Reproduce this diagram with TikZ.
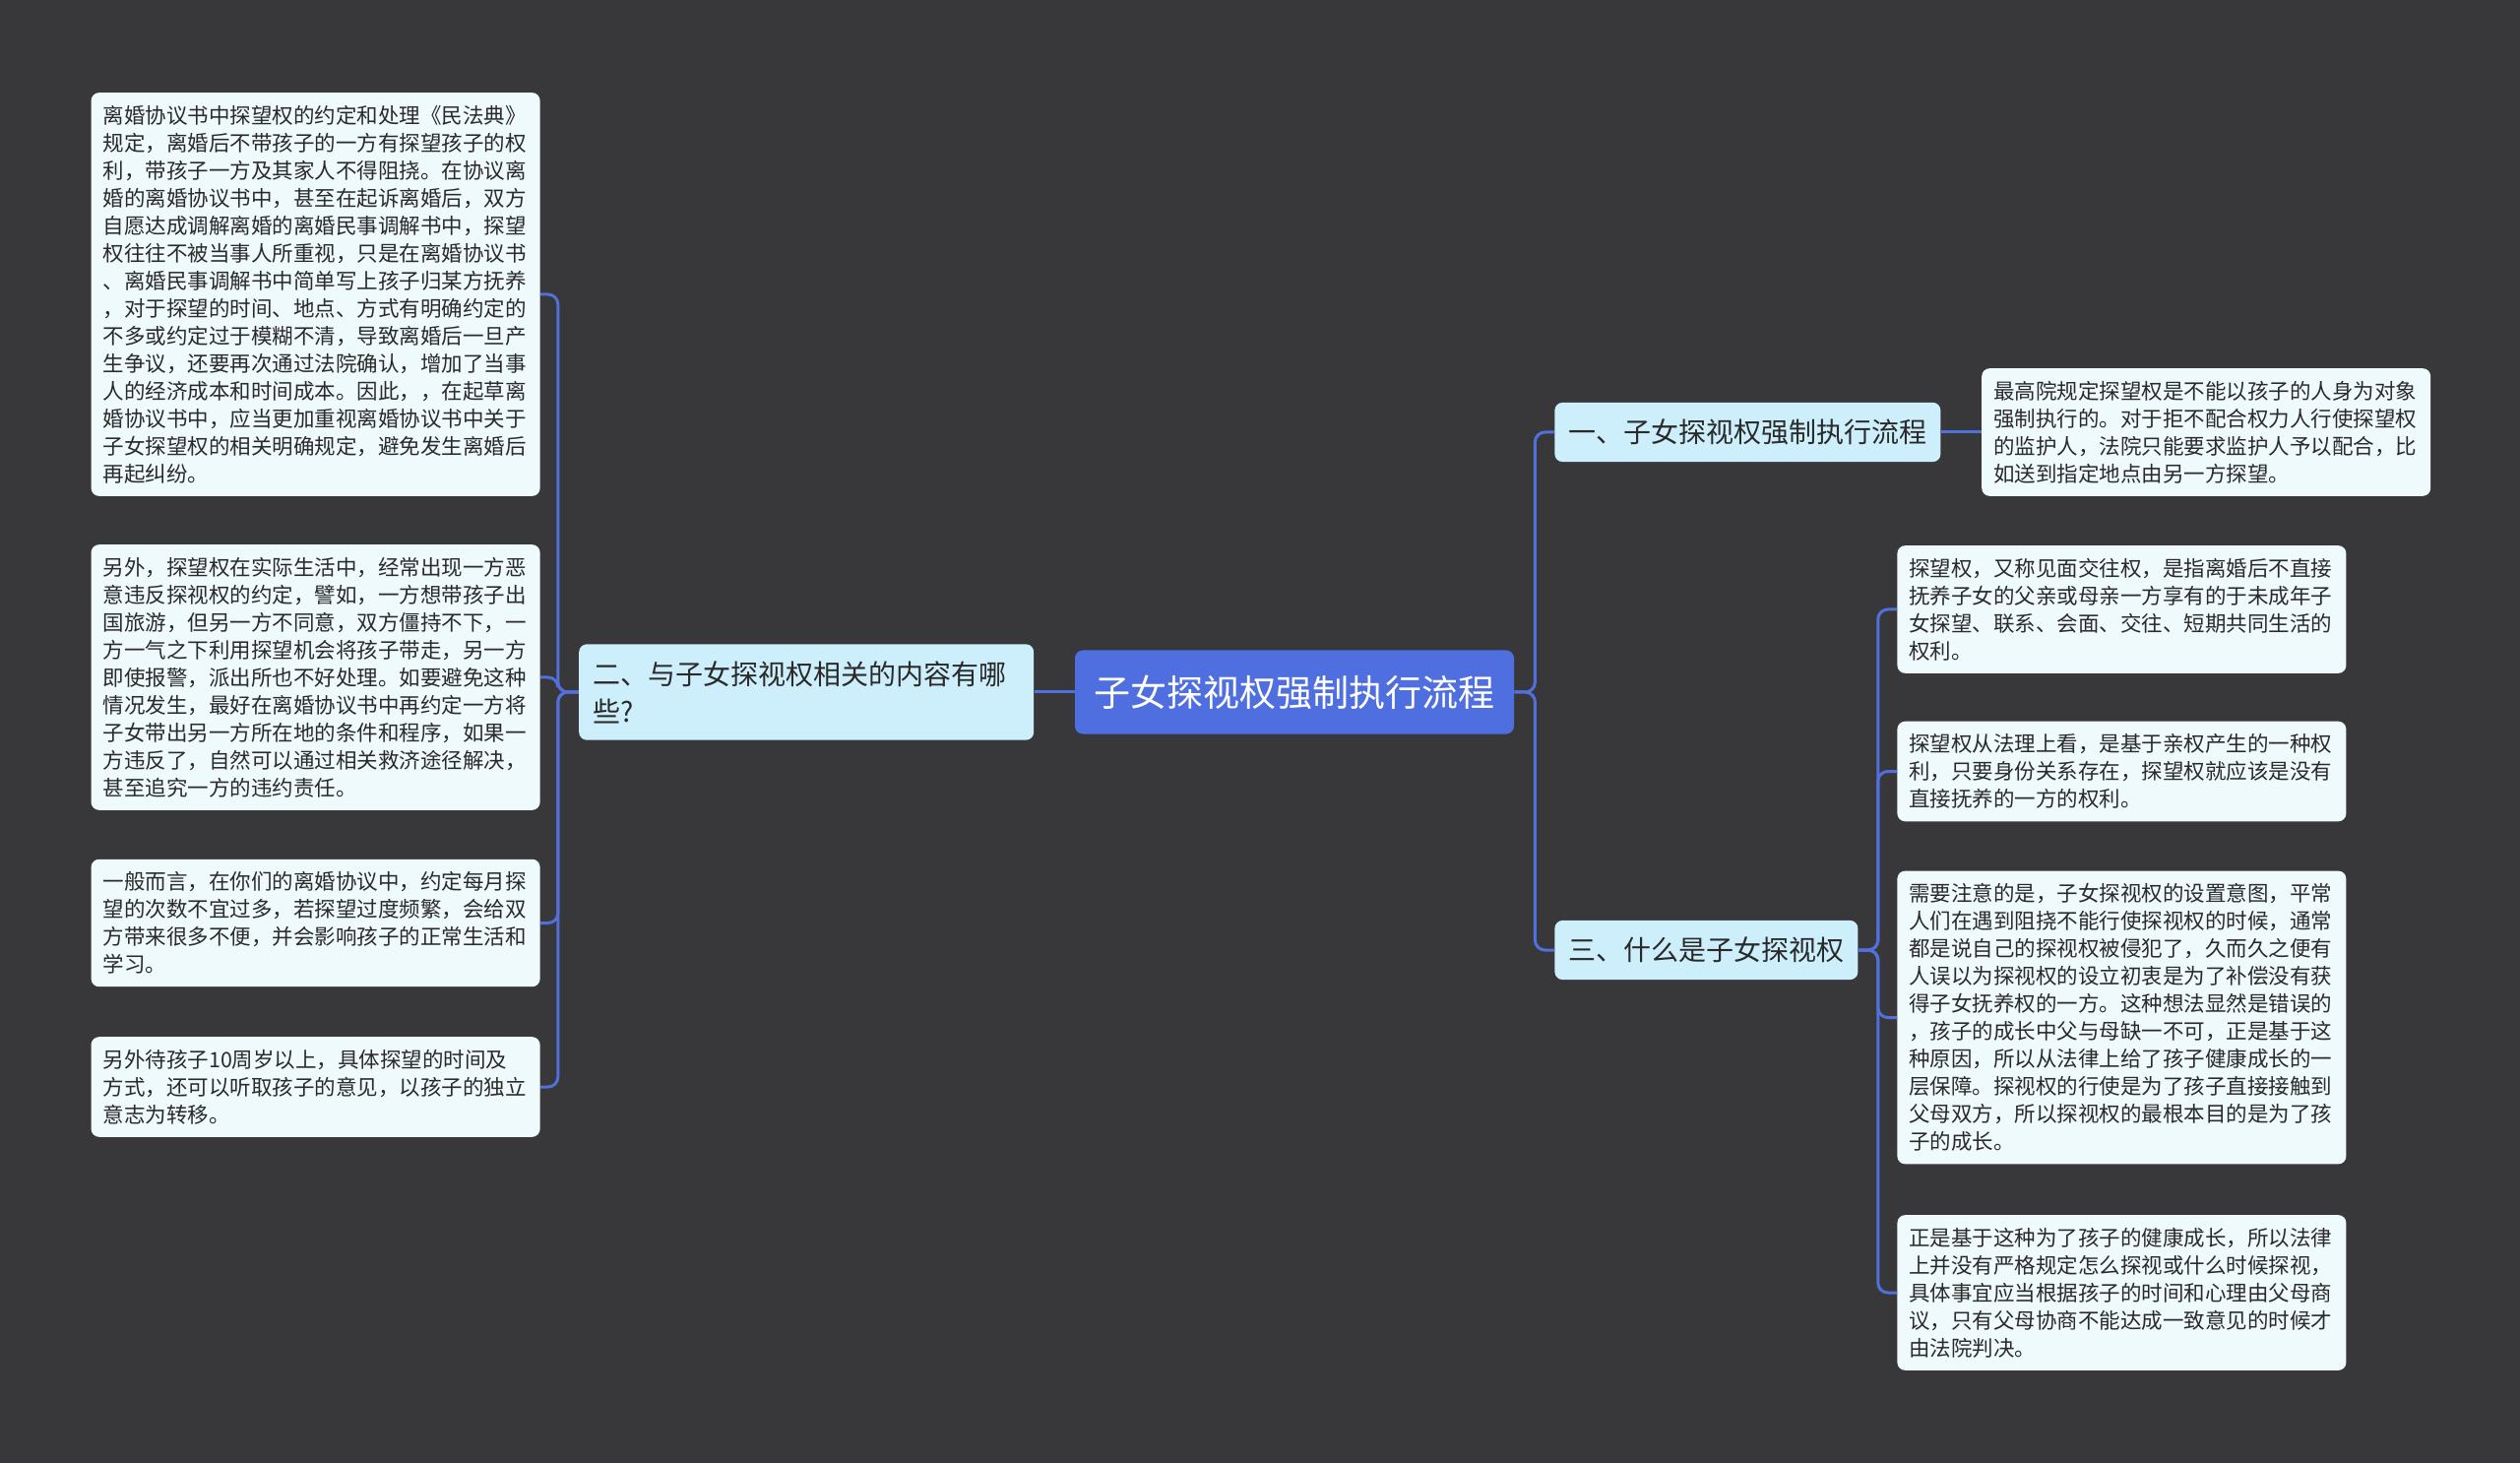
\documentclass[tikz,border=0pt]{standalone}
\usepackage{fontspec}
\setmainfont{Noto Sans CJK SC}
\usetikzlibrary{positioning}
\definecolor{bgdark}{HTML}{38383A}
\definecolor{rootblue}{HTML}{4F6FE0}
\definecolor{topicfill}{HTML}{CDEEFB}
\definecolor{leaffill}{HTML}{EFFAFC}
\definecolor{linkblue}{HTML}{5170DC}
\definecolor{inkgray}{HTML}{2A2A2A}
\tikzset{
    root/.style={rectangle, fill=rootblue, text=white, rounded corners=4pt, minimum width=223pt, minimum height=42.5pt, font=\fontsize{18.5}{22}\selectfont},
    topic/.style={rectangle, fill=topicfill, text=inkgray, rounded corners=4pt, inner xsep=7pt, inner ysep=8.5pt, align=left, font=\fontsize{14}{19}\selectfont},
    leaf/.style={rectangle, fill=leaffill, text=inkgray, rounded corners=4pt, inner xsep=6pt, inner ysep=6.4pt, text width=216pt, align=left, font=\fontsize{10.75}{14}\selectfont},
    link/.style={draw=linkblue, line width=1.5pt, rounded corners=5pt}
}
\begin{document}
\begin{tikzpicture}[x=0.5pt, y=-0.5pt]
    % background
    \fill[bgdark] (0,0) rectangle (2560,1486);
    \useasboundingbox (0,0) rectangle (2560,1486);

    % centre and main topics
    \node[root] (root) at (1315,703) {子女探视权强制执行流程};
    \node[topic, text width=217pt, left=20.5pt of root] (t2) {二、与子女探视权相关的内容有哪\\些?};
    \node[topic, anchor=west] (t1) at (1579,439) {一、子女探视权强制执行流程};
    \node[topic, anchor=west] (t3) at (1579,965) {三、什么是子女探视权};

    % topic one
    \node[leaf, right=20.5pt of t1] (r1) {最高院规定探望权是不能以孩子的人身为对象\\强制执行的。对于拒不配合权力人行使探望权\\的监护人，法院只能要求监护人予以配合，比\\如送到指定地点由另一方探望。};

    % topic three
    \node[leaf, anchor=west] (r2) at (1927,619) {探望权，又称见面交往权，是指离婚后不直接\\抚养子女的父亲或母亲一方享有的于未成年子\\女探望、联系、会面、交往、短期共同生活的\\权利。};
    \node[leaf, anchor=west] (r3) at (1927,783.5) {探望权从法理上看，是基于亲权产生的一种权\\利，只要身份关系存在，探望权就应该是没有\\直接抚养的一方的权利。};
    \node[leaf, anchor=west] (r4) at (1927,1033.5) {需要注意的是，子女探视权的设置意图，平常\\人们在遇到阻挠不能行使探视权的时候，通常\\都是说自己的探视权被侵犯了，久而久之便有\\人误以为探视权的设立初衷是为了补偿没有获\\得子女抚养权的一方。这种想法显然是错误的\\，孩子的成长中父与母缺一不可，正是基于这\\种原因，所以从法律上给了孩子健康成长的一\\层保障。探视权的行使是为了孩子直接接触到\\父母双方，所以探视权的最根本目的是为了孩\\子的成长。};
    \node[leaf, anchor=west] (r5) at (1927,1313) {正是基于这种为了孩子的健康成长，所以法律\\上并没有严格规定怎么探视或什么时候探视，\\具体事宜应当根据孩子的时间和心理由父母商\\议，只有父母协商不能达成一致意见的时候才\\由法院判决。};

    % topic two
    \node[leaf, anchor=east] (l1) at (549,299) {离婚协议书中探望权的约定和处理《民法典》\\规定，离婚后不带孩子的一方有探望孩子的权\\利，带孩子一方及其家人不得阻挠。在协议离\\婚的离婚协议书中，甚至在起诉离婚后，双方\\自愿达成调解离婚的离婚民事调解书中，探望\\权往往不被当事人所重视，只是在离婚协议书\\、离婚民事调解书中简单写上孩子归某方抚养\\，对于探望的时间、地点、方式有明确约定的\\不多或约定过于模糊不清，导致离婚后一旦产\\生争议，还要再次通过法院确认，增加了当事\\人的经济成本和时间成本。因此，，在起草离\\婚协议书中，应当更加重视离婚协议书中关于\\子女探望权的相关明确规定，避免发生离婚后\\再起纠纷。};
    \node[leaf, anchor=east] (l2) at (549,688) {另外，探望权在实际生活中，经常出现一方恶\\意违反探视权的约定，譬如，一方想带孩子出\\国旅游，但另一方不同意，双方僵持不下，一\\方一气之下利用探望机会将孩子带走，另一方\\即使报警，派出所也不好处理。如要避免这种\\情况发生，最好在离婚协议书中再约定一方将\\子女带出另一方所在地的条件和程序，如果一\\方违反了，自然可以通过相关救济途径解决，\\甚至追究一方的违约责任。};
    \node[leaf, anchor=east] (l3) at (549,937.5) {一般而言，在你们的离婚协议中，约定每月探\\望的次数不宜过多，若探望过度频繁，会给双\\方带来很多不便，并会影响孩子的正常生活和\\学习。};
    \node[leaf, anchor=east] (l4) at (549,1104) {另外待孩子10周岁以上，具体探望的时间及\\方式，还可以听取孩子的意见，以孩子的独立\\意志为转移。};

    % connectors
    \coordinate[left=10.5pt of t2] (lfork);
    \coordinate[right=10.5pt of root] (rfork);
    \coordinate[right=10pt of t3] (tfork);

    \draw[link] (root) -- (t2);
    \draw[link] (t1) -- (r1);
    \foreach \n in {t1,t3}
        \draw[link] (root.east) -- (rfork) |- (\n.west);
    \foreach \n in {l1,l2,l3,l4}
        \draw[link] (t2.west) -- (lfork) |- (\n.east);
    \foreach \n in {r2,r3,r4,r5}
        \draw[link] (t3.east) -- (tfork) |- (\n.west);
\end{tikzpicture}
\end{document}
